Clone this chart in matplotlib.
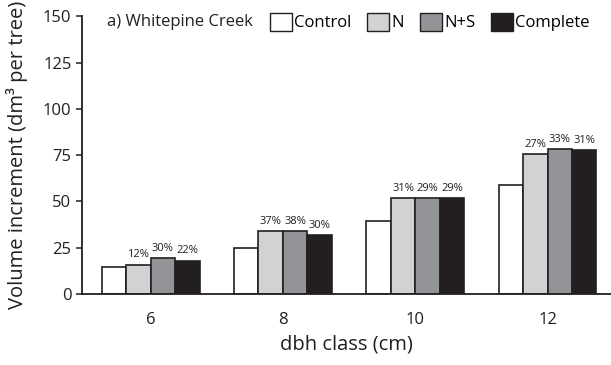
import numpy as np
import matplotlib
matplotlib.use("Agg")
import matplotlib.pyplot as plt
from matplotlib.patches import Patch

plt.rcParams['font.family'] = ['Open Sans', 'DejaVu Sans']

# volume increment by dbh class, Whitepine Creek
dbh_classes = ['6', '8', '10', '12']
treatments = ['Control', 'N', 'N+S', 'Complete']
control = [14.7, 24.8, 39.5, 58.7]
nitrogen = [15.8, 34.0, 51.6, 75.4]
n_plus_s = [19.2, 34.0, 51.6, 78.4]
complete = [18.0, 31.9, 51.6, 77.7]
# response relative to control, shown above the fertilized bars
pct_n = ['12%', '37%', '31%', '27%']
pct_ns = ['30%', '38%', '29%', '33%']
pct_c = ['22%', '30%', '29%', '31%']

colors = ['#ffffff', '#d1d2d4', '#929497', '#231f20']
series = [control, nitrogen, n_plus_s, complete]
labels = [None, pct_n, pct_ns, pct_c]

fig = plt.figure(figsize=(6.11, 3.65), dpi=100)
ax = fig.add_axes([0.134, 0.195, 0.866, 0.76])

x = np.arange(len(dbh_classes))
w = 0.185
for i, (vals, col, lab) in enumerate(zip(series, colors, labels)):
    pos = x + (i - 1.5) * w
    bars = ax.bar(pos, vals, width=w, color=col, edgecolor='#231f20',
                  linewidth=1.2, label=treatments[i])
    if lab is not None:
        for b, t in zip(bars, lab):
            ax.annotate(t, (b.get_x() + b.get_width() / 2, b.get_height()),
                        xytext=(0, 3), textcoords='offset points',
                        ha='center', va='bottom', fontsize=8, color='#231f20')

ax.set_xlim(-0.52, 3.48)
ax.set_ylim(0, 150)
ax.set_yticks([0, 25, 50, 75, 100, 125, 150])
ax.set_xticks(x)
ax.set_xticklabels(dbh_classes)
ax.tick_params(axis='x', length=0, pad=13, labelsize=12, colors='#231f20')
ax.tick_params(axis='y', length=4, width=1.1, labelsize=12, colors='#231f20')
for s in ['top', 'right']:
    ax.spines[s].set_visible(False)
for s in ['left', 'bottom']:
    ax.spines[s].set_linewidth(1.3)
    ax.spines[s].set_color('#231f20')

ax.set_xlabel('dbh class (cm)', fontsize=14.5, color='#231f20', labelpad=5)
ax.set_ylabel('Volume increment (dm³ per tree)', fontsize=14.5, color='#231f20', labelpad=11)

ax.text(107 / 611, 1 - 22 / 365, 'a) Whitepine Creek', transform=fig.transFigure,
        fontsize=12, color='#231f20', va='center', ha='left')
handles = [Patch(facecolor=c, edgecolor='#231f20', linewidth=1.0) for c in colors]
ax.legend(handles, treatments, loc='center left',
          bbox_to_anchor=(270 / 611, 1 - 22 / 365), bbox_transform=fig.transFigure,
          ncol=4, frameon=False, fontsize=12, handlelength=1.3, handleheight=1.3,
          handletextpad=0.15, columnspacing=0.95, borderpad=0, borderaxespad=0)

fig.savefig('out.png', dpi=100)
